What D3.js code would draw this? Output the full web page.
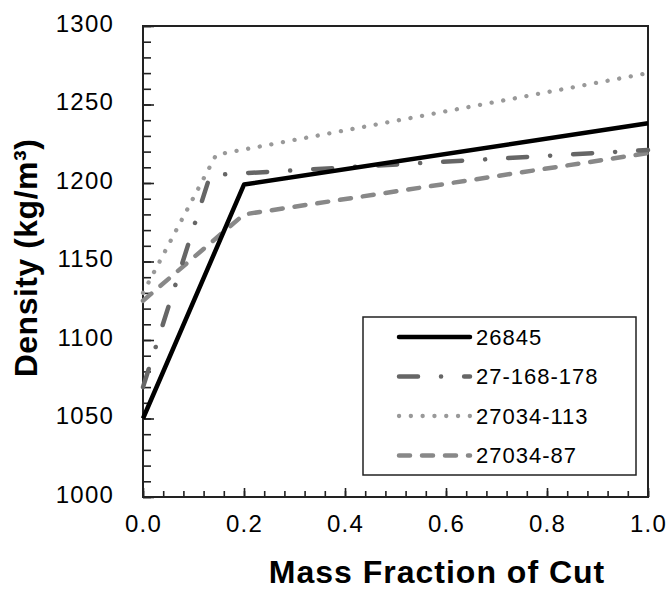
<!DOCTYPE html>
<html lang="en">
    <head>
        <meta charset="utf-8">
        <title>Density vs Mass Fraction of Cut</title>
        <script type="text/javascript" src="https://d3js.org/d3.v7.min.js"></script>
        <style type="text/css">
            body { margin: 0; background: #fff; }
            text { font-family: Arial, "Liberation Sans", sans-serif; fill: #000; }
        </style>
    </head>
    <body>
        <script type="text/javascript">
            // Data
            var seriesNames = ["26845", "27-168-178", "27034-113", "27034-87"];
            var massFraction = [
                [0, 0.2, 1.0],
                [0, 0.133, 1.0],
                [0, 0.145, 1.0],
                [0, 0.2, 1.0]
            ];
            var density = [
                [1050, 1199, 1238],
                [1070, 1205, 1221],
                [1130, 1218, 1270],
                [1125, 1180, 1219]
            ];
            var xTicks = [0, 0.2, 0.4, 0.6, 0.8, 1.0];
            var yTicks = [1000, 1050, 1100, 1150, 1200, 1250, 1300];

            // line styles for each series
            var styles = [
                { color: "#000", width: 4.5, dash: null },
                { color: "#666", width: 4.5, dash: "19 23 0.1 23" },
                { color: "#999", width: 4.3, dash: "0.1 11.7" },
                { color: "#888", width: 4.5, dash: "11 12" }
            ];

            var w = 672;
            var h = 592;
            // plot box (note: "top" is taken by window.top, so use other names)
            var pLeft = 143, pRight = 648, pTop = 26, pBottom = 497;

            var svg = d3.select("body")
                        .append("svg")
                        .attr("width", w)
                        .attr("height", h);

            var x = d3.scaleLinear().domain([0, 1]).range([pLeft, pRight]);
            var y = d3.scaleLinear().domain([1000, 1300]).range([pBottom, pTop]);

            // minor + major ticks, pointing inward
            svg.append("g")
               .attr("transform", "translate(0," + pBottom + ")")
               .call(d3.axisTop(x).tickValues(d3.range(0, 1.0001, 0.04)).tickSize(6).tickFormat(""))
               .call(g => g.select(".domain").remove());
            svg.append("g")
               .attr("transform", "translate(0," + pBottom + ")")
               .call(d3.axisTop(x).tickValues(xTicks).tickSize(9).tickFormat(""))
               .call(g => g.select(".domain").remove());
            svg.append("g")
               .attr("transform", "translate(" + pLeft + ",0)")
               .call(d3.axisRight(y).tickValues(d3.range(1000, 1301, 10)).tickSize(8).tickFormat(""))
               .call(g => g.select(".domain").remove());
            svg.append("g")
               .attr("transform", "translate(" + pLeft + ",0)")
               .call(d3.axisRight(y).tickValues(yTicks).tickSize(11).tickFormat(""))
               .call(g => g.select(".domain").remove());
            svg.selectAll(".tick line").attr("stroke", "#222").attr("stroke-width", 1.6);

            // tick labels
            var xAxis = svg.append("g")
               .attr("transform", "translate(0," + pBottom + ")")
               .call(d3.axisBottom(x).tickValues(xTicks).tickSize(0).tickPadding(18).tickFormat(d3.format(".1f")));
            xAxis.select(".domain").remove();
            xAxis.selectAll("text").attr("font-size", "24px").attr("letter-spacing", "1.2px")
                 .attr("font-family", "Arial, 'Liberation Sans', sans-serif");

            var yAxis = svg.append("g")
               .attr("transform", "translate(" + pLeft + ",0)")
               .call(d3.axisLeft(y).tickValues(yTicks).tickSize(0).tickPadding(29).tickFormat(d3.format("d")));
            yAxis.select(".domain").remove();
            yAxis.selectAll("text").attr("font-size", "24px").attr("letter-spacing", "1.2px")
                 .attr("dy", "0.22em")
                 .attr("font-family", "Arial, 'Liberation Sans', sans-serif");

            // frame
            svg.append("rect")
               .attr("x", pLeft).attr("y", pTop)
               .attr("width", pRight - pLeft).attr("height", pBottom - pTop)
               .attr("fill", "none").attr("stroke", "#222").attr("stroke-width", 2);

            // lines, drawn last to first so 26845 sits on top
            var line = d3.line()
                         .x(function(d) { return x(d[0]); })
                         .y(function(d) { return y(d[1]); });

            for (var i = seriesNames.length - 1; i >= 0; i--) {
                var pts = d3.zip(massFraction[i], density[i]);
                svg.append("path")
                   .datum(pts)
                   .attr("d", line)
                   .attr("fill", "none")
                   .attr("stroke", styles[i].color)
                   .attr("stroke-width", styles[i].width)
                   .attr("stroke-dasharray", styles[i].dash)
                   .attr("stroke-linecap", styles[i].dash ? "round" : "butt")
                   .attr("stroke-linejoin", "round");
            }

            // legend
            var legend = svg.append("g");
            legend.append("rect")
                  .attr("x", 363).attr("y", 317)
                  .attr("width", 273).attr("height", 158)
                  .attr("fill", "#fff").attr("stroke", "#222").attr("stroke-width", 1.5);

            var rows = legend.selectAll("g.row")
                  .data(seriesNames)
                  .enter()
                  .append("g")
                  .attr("transform", function(d, i) { return "translate(0," + (337 + i * 39.5) + ")"; });

            rows.append("line")
                .attr("x1", 399).attr("x2", 470)
                .attr("stroke", function(d, i) { return styles[i].color; })
                .attr("stroke-width", function(d, i) { return styles[i].width; })
                .attr("stroke-dasharray", function(d, i) { return styles[i].dash; })
                .attr("stroke-linecap", "round");

            rows.append("text")
                .attr("x", 476)
                .attr("dy", "0.36em")
                .attr("font-size", "22px")
                .attr("letter-spacing", "1px")
                .text(function(d) { return d; });

            // axis titles
            svg.append("text")
               .attr("x", 437)
               .attr("y", 583)
               .attr("text-anchor", "middle")
               .attr("font-size", "32px")
               .attr("font-weight", "bold")
               .attr("letter-spacing", "1px")
               .text("Mass Fraction of Cut");

            svg.append("text")
               .attr("transform", "translate(37,258) rotate(-90)")
               .attr("text-anchor", "middle")
               .attr("font-size", "32px")
               .attr("font-weight", "bold")
               .attr("letter-spacing", "0.5px")
               .text("Density (kg/m³)");
        </script>
    </body>
</html>
